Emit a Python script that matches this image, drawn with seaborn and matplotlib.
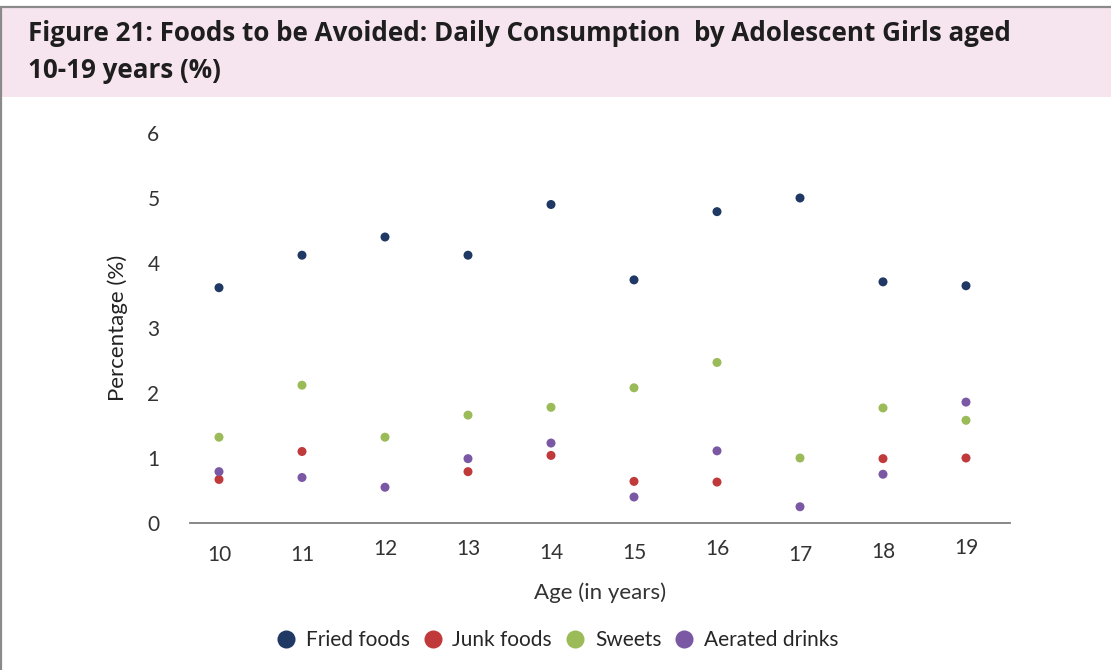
import numpy as np
import pandas as pd
import matplotlib
matplotlib.use("Agg")
import matplotlib.pyplot as plt
import matplotlib.transforms as mtransforms
from matplotlib.patches import Rectangle
from matplotlib.lines import Line2D
import seaborn as sns

# ---- data -------------------------------------------------------------
ages = [10, 11, 12, 13, 14, 15, 16, 17, 18, 19]
fried_foods = [3.62, 4.12, 4.40, 4.12, 4.90, 3.74, 4.79, 5.00, 3.71, 3.65]
junk_foods = [0.67, 1.10, np.nan, 0.79, 1.04, 0.64, 0.63, np.nan, 0.99, 1.00]
sweets = [1.32, 2.12, 1.32, 1.66, 1.78, 2.08, 2.47, 1.00, 1.77, 1.58]
aerated_drinks = [0.79, 0.70, 0.55, 0.99, 1.23, 0.40, 1.11, 0.25, 0.75, 1.86]
series_names = ["Fried foods", "Junk foods", "Sweets", "Aerated drinks"]
y_ticks = [0, 1, 2, 3, 4, 5, 6]

colors = ["#1F3864", "#C0393B", "#9BBB59", "#7B58A4"]

df = pd.DataFrame({
    "Age": ages * 4,
    "Percentage": fried_foods + junk_foods + sweets + aerated_drinks,
    "Food": sum([[n] * len(ages) for n in series_names], []),
}).dropna()

# ---- figure -----------------------------------------------------------
sns.set_theme(style="white")
plt.rcParams["font.family"] = ["Lato", "DejaVu Sans"]

fig = plt.figure(figsize=(11.11, 6.70), dpi=100)
fig.patch.set_facecolor("white")

# header band and outer frame
fig.add_artist(Rectangle((0.0015, 1 - 97 / 670), 0.9985, 91 / 670,
                         transform=fig.transFigure, facecolor="#F6E5EF",
                         edgecolor="none", zorder=0))
fig.add_artist(Line2D([0, 1], [1 - 6.5 / 670] * 2, transform=fig.transFigure,
                      color="#8a8a8a", lw=1.6))
fig.add_artist(Line2D([0.0012, 0.0012], [0, 1 - 6.5 / 670], transform=fig.transFigure,
                      color="#8a8a8a", lw=1.6))

title_font = dict(fontsize=18.7, fontweight="bold", color="#1e1e1e",
                  va="baseline", ha="left", family=["Open Sans", "DejaVu Sans"])
fig.text(28 / 1111, 1 - 41 / 670,
         "Figure 21: Foods to be Avoided: Daily Consumption  by Adolescent Girls aged",
         **title_font)
fig.text(28 / 1111, 1 - 78 / 670, "10-19 years (%)", **title_font)

ax = fig.add_axes([190 / 1111, 1 - 523 / 670, 820 / 1111, 390 / 670])

sns.scatterplot(data=df, x="Age", y="Percentage", hue="Food",
                hue_order=series_names, palette=colors, s=42,
                edgecolor="none", legend=False, ax=ax, zorder=3)

ax.set_xlim(10 - 29 / 83, 19 + 44 / 83)
ax.set_ylim(0, 6)
ax.set_xticks(ages)
ax.set_xticklabels([str(a) for a in ages])
ax.set_yticks(y_ticks)
ax.set_yticklabels([str(t) for t in y_ticks])

for side in ["top", "right", "left"]:
    ax.spines[side].set_visible(False)
ax.spines["bottom"].set_color("#7f7f7f")
ax.spines["bottom"].set_linewidth(1.3)

ax.tick_params(axis="y", length=0, pad=22, labelsize=15, labelcolor="#333333")
ax.tick_params(axis="x", length=0, pad=14, labelsize=15, labelcolor="#333333")

# slight baseline variation of the age labels
x_label_shift = [-3, -3, 3, 3, -1, -1, 3, -3, 0, 4]
for lbl, dy in zip(ax.get_xticklabels(), x_label_shift):
    lbl.set_transform(lbl.get_transform() +
                      mtransforms.ScaledTranslation(0, dy / 100, fig.dpi_scale_trans))

ax.set_xlabel("Age (in years)", fontsize=16, color="#333333", labelpad=12)
ax.set_ylabel("Percentage (%)", fontsize=16, color="#222222", labelpad=14)

handles = [Line2D([], [], marker="o", linestyle="none", markersize=13,
                  markerfacecolor=c, markeredgecolor="none") for c in colors]
fig.legend(handles, series_names, loc="center", bbox_to_anchor=(556 / 1111, 1 - 640 / 670),
           ncol=4, frameon=False, fontsize=15, handletextpad=0.35, columnspacing=0.5,
           handlelength=1.2)

fig.savefig("out.png", dpi=100, facecolor="white")
